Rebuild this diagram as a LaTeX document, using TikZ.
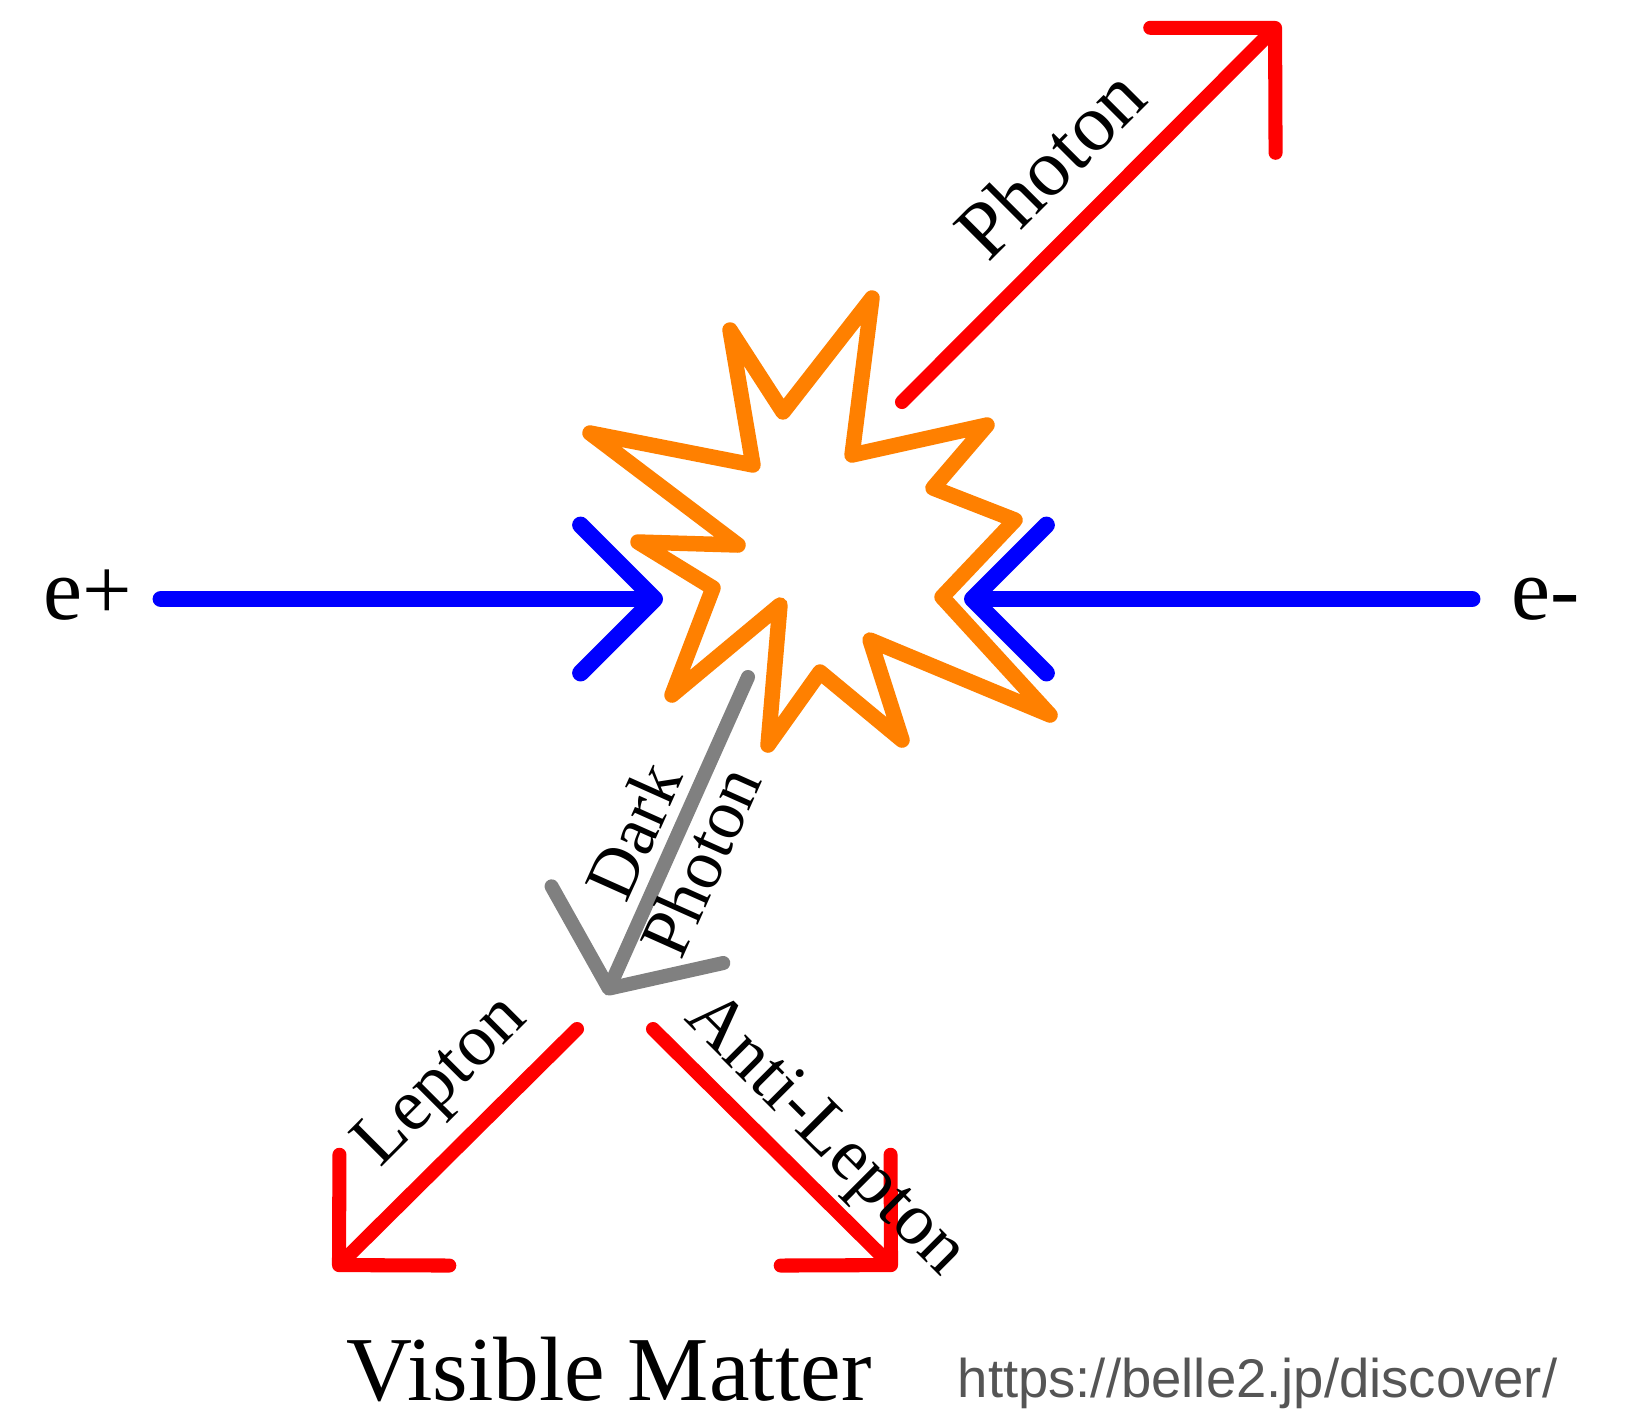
\documentclass[tikz,border=0pt]{standalone}
\usepackage{fontspec}
\setmainfont{Liberation Serif}
\newfontfamily\urlfont{Liberation Sans}
\usepackage{tikz}
\usetikzlibrary{
  arrows.meta,
  positioning
}
\definecolor{burstorange}{RGB}{255,128,0}
\definecolor{urlgray}{RGB}{85,85,85}

\begin{document}
\begin{tikzpicture}[
  x=0.1mm, y=-0.1mm,
  beam/.style={draw=blue, line width=4.8pt, line cap=round,
    -{Straight Barb[length=7.4mm, width=14.8mm, round]}},
  ray/.style={draw=red, line width=4pt, line cap=round,
    -{Straight Barb[length=7.8mm, width=15.6mm, round]}},
  darkray/.style={draw=gray, line width=4pt, line cap=round,
    -{Straight Barb[length=7mm, width=18.8mm, round]}},
  burst/.style={draw=burstorange, line width=4.4pt, line join=round},
  lbl/.style={font=\fontsize{21}{21}\selectfont, inner sep=0pt, align=center},
  beamlbl/.style={font=\fontsize{25}{25}\selectfont, inner sep=0pt, anchor=base}
]
\useasboundingbox (0,0) rectangle (1625,1415);

% collision burst
\draw[burst] (730,330) -- (783,412) -- (872,298) -- (852,455) -- (987,425)
  -- (933,488) -- (1015,520) -- (942,597) -- (1050,715) -- (870,640)
  -- (902,740) -- (820,672) -- (768,745) -- (780,605) -- (672,695)
  -- (713,588) -- (638,542) -- (738,545) -- (590,433) -- (753,465) -- cycle;

% --- incoming beams ---
\node[beamlbl] (eplus) at (88,619) {e+};
\node[beamlbl] (eminus) at (1546,619) {e-};
\coordinate (plusstart) at (161,599);
\coordinate (plusend) at (663,599);
\coordinate (minusstart) at (1472,599);
\coordinate (minusend) at (964,599);
\draw[beam] (plusstart) -- (plusend);
\draw[beam] (minusstart) -- (minusend);

% --- photon ---
\coordinate (photonstart) at (902,402);
\coordinate (photonend) at (1280,23);
\draw[ray, -{Straight Barb[length=8.8mm, width=17.7mm, round]}] (photonstart) -- (photonend);
\node[lbl, font=\fontsize{23}{23}\selectfont, rotate=45] (photonlbl) at (1050,163) {Photon};

% --- dark photon ---
\coordinate (darkstart) at (748,677);
\coordinate (darkend) at (606,995);
\draw[darkray] (darkstart) -- (darkend);
\node[lbl, font=\fontsize{20}{21}\selectfont, rotate=65.9] (darklbl) at (667,846) {Dark\\Photon};

% --- lepton pair ---
\coordinate (leptonstart) at (577,1029);
\coordinate (leptonend) at (334,1270);
\coordinate (antistart) at (653,1029);
\coordinate (antiend) at (896,1270);
\draw[ray] (leptonstart) -- (leptonend);
\draw[ray] (antistart) -- (antiend);
\node[lbl, rotate=45] (leptonlbl) at (443,1083) {Lepton};
\node[lbl, rotate=-45] (antilbl) at (824,1137) {Anti-Lepton};

% caption
\node[inner sep=0pt, anchor=base, font=\fontsize{26}{26}\selectfont] (visible) at (609,1400) {Visible Matter};
\node[inner sep=0pt, anchor=base west, text=urlgray, font=\urlfont\fontsize{15.5}{15.5}\selectfont] (source) at (957,1397) {https://belle2.jp/discover/};

\end{tikzpicture}
\end{document}
